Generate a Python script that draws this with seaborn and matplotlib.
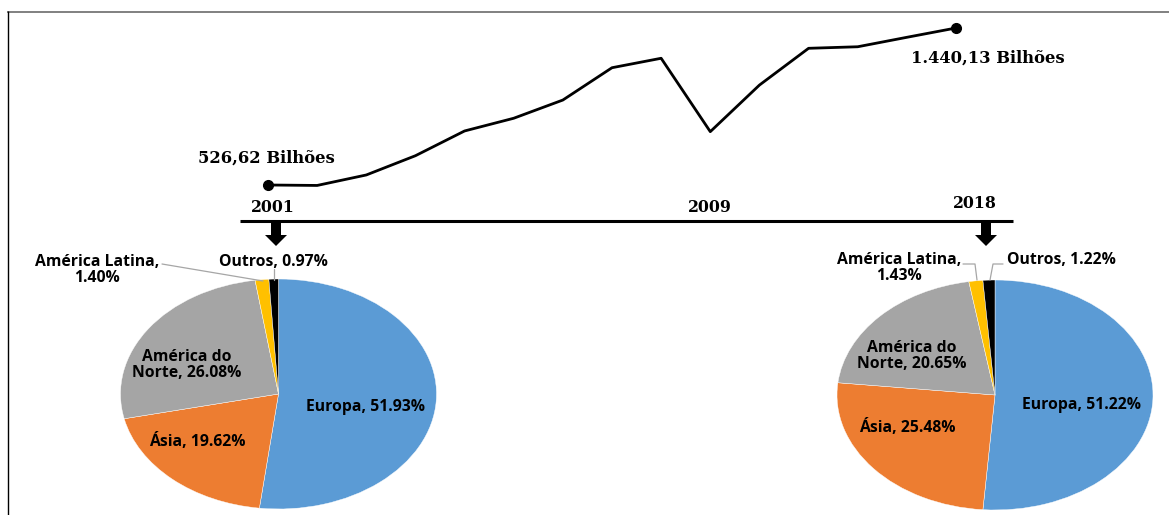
import numpy as np
import pandas as pd
import matplotlib
matplotlib.use("Agg")
import matplotlib.pyplot as plt
import seaborn as sns

# ---------------- data ----------------
line_values = [526.62, 524.0, 585.0, 697.0, 841.0, 915.0, 1021.0, 1209.0,
               1264.0, 837.0, 1108.0, 1322.0, 1331.0, 1386.0, 1440.13]
start_label = "526,62 Bilhões"
end_label = "1.440,13 Bilhões"
timeline_years = ["2001", "2009", "2018"]

categories = ["Europa", "Ásia", "América do Norte", "América Latina", "Outros"]
share_2001 = [51.93, 19.62, 26.08, 1.40, 0.97]
share_2018 = [51.22, 25.48, 20.65, 1.43, 1.22]
pie_colors = ["#5B9BD5", "#ED7D31", "#A5A5A5", "#FFC000", "#000000"]

# ---------------- figure ----------------
sns.set_theme(style="white")
W, H = 1169, 515
fig = plt.figure(figsize=(W / 100, H / 100), dpi=100)
fig.patch.set_facecolor("white")

# overlay axes in pixel coordinates for decorations
bg = fig.add_axes([0, 0, 1, 1])
bg.set_xlim(0, W)
bg.set_ylim(H, 0)
bg.axis("off")
bg.set_zorder(3)
bg.patch.set_alpha(0)

# frame
bg.plot([7, W], [11.5, 11.5], color="#808080", lw=1.4, solid_capstyle="butt")
bg.plot([7.5, 7.5], [11, H], color="black", lw=1.0, solid_capstyle="butt")

serif = dict(family="DejaVu Serif", weight="bold", color="black")
sans = dict(family="Open Sans", weight="bold", color="black")

# ---------------- line chart ----------------
ax_line = fig.add_axes([268 / W, 1 - 185 / H, (956 - 268) / W, (185 - 28) / H])
df = pd.DataFrame({"idx": np.arange(len(line_values)), "valor": line_values})
sns.lineplot(data=df, x="idx", y="valor", ax=ax_line, color="black", lw=2.0)
ends = df.iloc[[0, -1]]
ax_line.plot(ends["idx"], ends["valor"], "o", color="black", ms=7)
ax_line.set_xlim(0, len(line_values) - 1)
ax_line.set_ylim(line_values[0], line_values[-1])
ax_line.axis("off")
for art in ax_line.get_lines():
    art.set_clip_on(False)
ax_line.annotate(start_label, xy=(0, line_values[0]), xytext=(-1, 19.5),
                 textcoords="offset points", ha="center", va="center",
                 fontsize=11.8, **serif)
ax_line.annotate(end_label, xy=(len(line_values) - 1, line_values[-1]),
                 xytext=(23, -21.5), textcoords="offset points",
                 ha="center", va="center", fontsize=11.8, **serif)

# ---------------- timeline ----------------
bg.plot([240, 1013], [221, 221], color="black", lw=2.2, solid_capstyle="butt")
for lab, (x, y) in zip(timeline_years, [(273, 207), (710, 207), (975, 204)]):
    bg.text(x, y, lab, ha="center", va="center", fontsize=11.3, **serif)
for x in (276, 986):
    bg.arrow(x, 222, 0, 24, width=10, head_width=22, head_length=11,
             length_includes_head=True, color="black", lw=0)

# ---------------- pies ----------------
def draw_pie(cx, cy, values, label_pos):
    ax = fig.add_axes([(cx - 158) / W, 1 - (cy + 115) / H, 316 / W, 230 / H])
    ax.pie(values, colors=pie_colors, startangle=90, counterclock=False,
           radius=1, wedgeprops=dict(edgecolor="white", linewidth=0.3))
    ax.set_aspect("auto")
    ax.set_xlim(-1, 1)
    ax.set_ylim(-1, 1)
    ax.axis("off")
    texts = [
        f"Europa, {values[0]:.2f}%",
        f"Ásia, {values[1]:.2f}%",
        f"América do\nNorte, {values[2]:.2f}%",
        f"América Latina,\n{values[3]:.2f}%",
        f"Outros, {values[4]:.2f}%",
    ]
    for t, (x, y) in zip(texts, label_pos):
        bg.text(x, y, t, ha="center", va="center", fontsize=11.3,
                linespacing=1.0, **sans)

draw_pie(278.5, 394, share_2001,
         [(366, 407), (197, 441), (187, 365), (97, 269.5), (273.5, 262)])
draw_pie(995, 395, share_2018,
         [(1082, 405), (907, 427), (912, 356), (899, 268), (1061, 260)])

lead = dict(color="#A6A6A6", lw=0.9)
bg.plot([162, 263], [264, 281], **lead)
bg.plot([274, 274], [269, 280], **lead)
bg.plot([963, 975, 977], [264, 264, 280], **lead)
bg.plot([1003, 993, 990], [264, 264, 280], **lead)

fig.savefig("out.png", dpi=100, facecolor="white")
